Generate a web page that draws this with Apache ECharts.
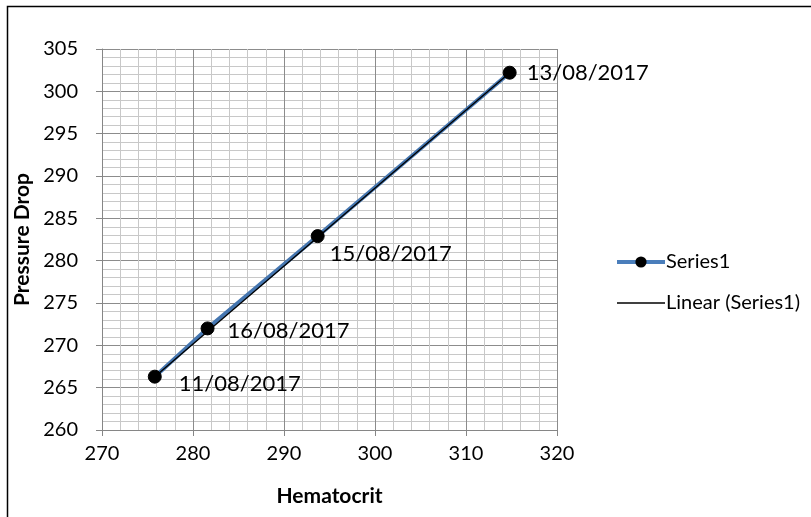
<!DOCTYPE html>
<html>
<head>
<meta charset="utf-8">
<script src="https://cdn.jsdelivr.net/npm/echarts@6/dist/echarts.min.js"></script>
<style>html,body{margin:0;padding:0;background:#fff;}#chart{width:811px;height:517px;}</style>
</head>
<body>
<div id="chart"></div>
<script>
// Data
const hematocrit = [275.8, 281.6, 293.7, 314.8];
const pressureDrop = [266.3, 272.0, 282.9, 302.2];
const dateLabels = ['11/08/2017', '16/08/2017', '15/08/2017', '13/08/2017'];
// Linear trendline endpoints
const trendX = [275.8, 314.8];
const trendY = [266.3, 302.2];
const xTicks = [270, 280, 290, 300, 310, 320];
const yTicks = [260, 265, 270, 275, 280, 285, 290, 295, 300, 305];

const labelOffsets = [[12, 7], [8, 3], [0, 18], [5, 0]];
const FONT = 'Lato';

const chart = echarts.init(document.getElementById('chart'));
const seriesData = hematocrit.map((x, i) => ({
  value: [x, pressureDrop[i]],
  label: { offset: labelOffsets[i] }
}));

chart.setOption({
  animation: false,
  backgroundColor: '#fff',
  graphic: [{
    type: 'rect', shape: { x: 7.5, y: 6.5, width: 900, height: 600 },
    style: { fill: 'none', stroke: '#000', lineWidth: 1.5 }, silent: true, z: -10
  }],
  grid: { left: 102, right: 254, top: 49, bottom: 87, containLabel: false },
  legend: {
    orient: 'vertical', left: 610, top: 247, itemWidth: 48, itemHeight: 14, itemGap: 21,
    textStyle: { fontFamily: FONT, fontSize: 20, color: '#000', padding: [0, 0, 0, -4] },
    data: [
      { name: 'Series1', lineStyle: { width: 4, color: '#4A7EBB' } },
      { name: 'Linear (Series1)', itemStyle: { opacity: 0 }, lineStyle: { width: 1.6, color: '#000' } }
    ]
  },
  xAxis: {
    type: 'value', min: xTicks[0], max: xTicks[xTicks.length - 1], interval: 10,
    name: 'Hematocrit', nameLocation: 'middle', nameGap: 56,
    nameTextStyle: { fontFamily: FONT, fontSize: 21, fontWeight: 'bold', color: '#000' },
    axisLine: { show: true, onZero: false, lineStyle: { color: '#868686', width: 1 } },
    axisTick: { show: true, length: 6, lineStyle: { color: '#868686' } },
    axisLabel: { fontFamily: FONT, fontSize: 20, color: '#000', margin: 14 },
    splitLine: { show: true, lineStyle: { color: '#8c8c8c', width: 1 } },
    minorTick: { show: false, splitNumber: 5 },
    minorSplitLine: { show: true, lineStyle: { color: '#c8c8c8', width: 1 } }
  },
  yAxis: {
    type: 'value', min: yTicks[0], max: yTicks[yTicks.length - 1], interval: 5,
    name: 'Pressure Drop', nameLocation: 'middle', nameGap: 66, nameRotate: 90,
    nameTextStyle: { fontFamily: FONT, fontSize: 21, fontWeight: 'bold', color: '#000' },
    axisLine: { show: true, onZero: false, lineStyle: { color: '#868686', width: 1 } },
    axisTick: { show: true, length: 6, lineStyle: { color: '#868686' } },
    axisLabel: { fontFamily: FONT, fontSize: 20, color: '#000', margin: 24 },
    splitLine: { show: true, lineStyle: { color: '#8c8c8c', width: 1 } },
    minorTick: { show: false, splitNumber: 5 },
    minorSplitLine: { show: true, lineStyle: { color: '#c8c8c8', width: 1 } }
  },
  series: [
    {
      name: 'Series1', type: 'line', data: seriesData,
      symbol: 'circle', symbolSize: 13,
      itemStyle: { color: '#000', borderColor: '#000' },
      lineStyle: { color: '#4576B0', width: 4 },
      label: {
        show: true, position: 'right', distance: 5,
        fontFamily: FONT, fontSize: 22, color: '#000',
        formatter: p => dateLabels[p.dataIndex]
      },
      z: 3
    },
    {
      name: 'Linear (Series1)', type: 'line',
      data: trendX.map((x, i) => [x, trendY[i]]),
      symbol: 'none', lineStyle: { color: '#000', width: 1.3 },
      itemStyle: { color: '#000' }, z: 4
    }
  ]
});
</script>
</body>
</html>
